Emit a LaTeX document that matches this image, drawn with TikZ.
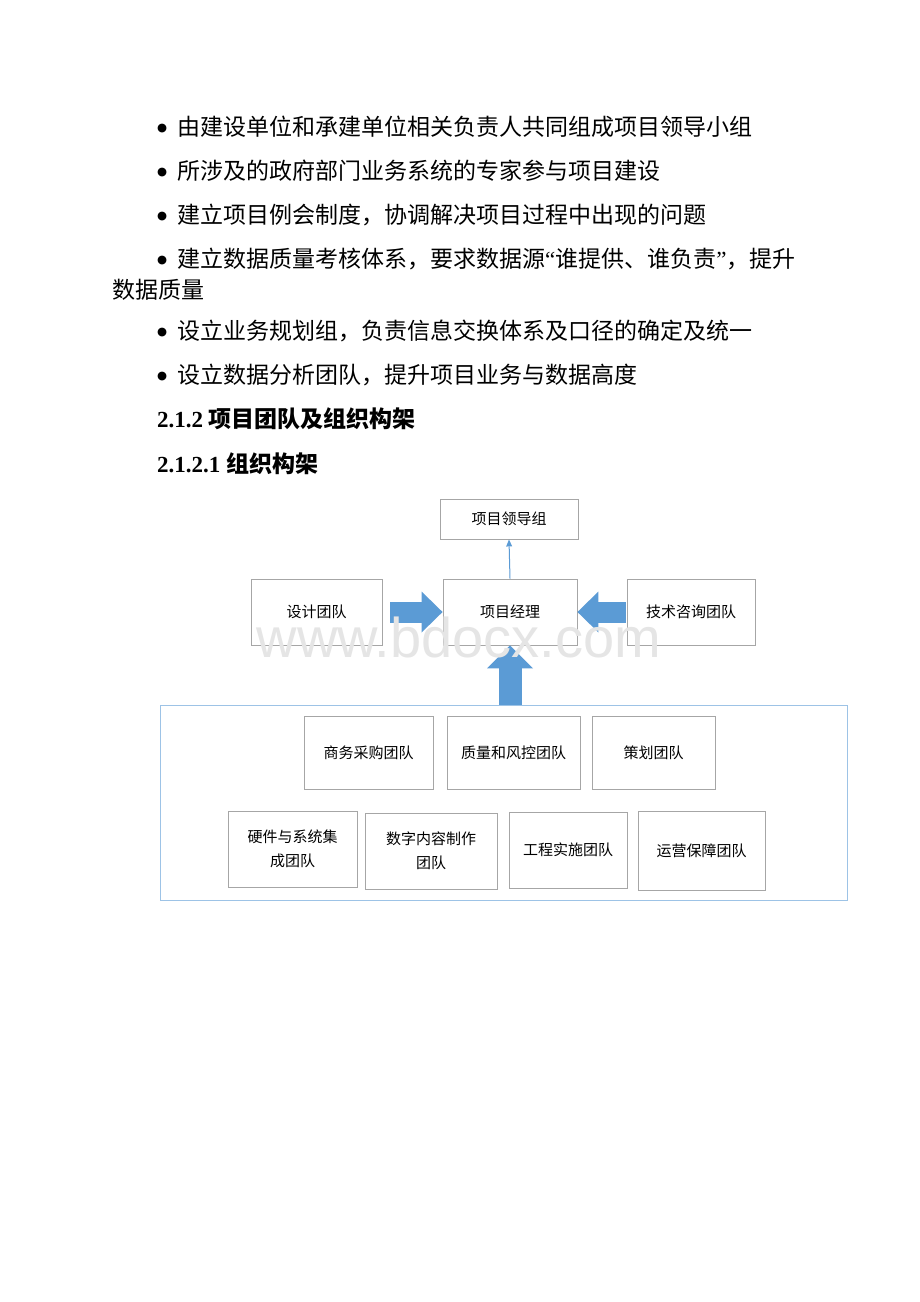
\documentclass[tikz,border=0pt]{standalone}
\usepackage{fontspec}
\setmainfont{Liberation Serif}
\newfontfamily\cjk{Noto Sans CJK SC}
\newfontfamily\symfont{DejaVu Sans}
\newfontfamily\marksans{Liberation Sans}
\usepackage{xcolor}
\definecolor{arrowBlue}{HTML}{5B9BD5}
\definecolor{boxGray}{HTML}{A6A6A6}
\definecolor{frameBlue}{HTML}{9DC3E6}
\definecolor{markGray}{HTML}{E5E5E5}
\usetikzlibrary{arrows.meta,calc,positioning}
\newcommand{\bulletMark}{\makebox[20pt][l]{\raisebox{3.5pt}{\symfont\fontsize{11.5}{11.5}\selectfont ●}}}
\tikzset{%
  bodyLine/.style={%
    anchor=base west,
    inner sep=0pt,
    font=\cjk\fontsize{23}{28}\selectfont
  },
  headLine/.style={%
    anchor=base west,
    inner sep=0pt,
    font=\bfseries\fontsize{23}{28}\selectfont
  },
  teamBox/.style={%
    rectangle,
    draw=boxGray,
    line width=0.9pt,
    inner sep=0pt,
    minimum height=73pt,
    align=center,
    font=\cjk\fontsize{15}{24}\selectfont
  },
  groupFrame/.style={%
    rectangle,
    draw=frameBlue,
    line width=1pt,
    inner sep=0pt
  },
  blockArrow/.style={%
    -{Triangle[length=21pt,width=41pt,line width=0pt]},
    line width=21pt,
    color=arrowBlue
  },
  thinArrow/.style={%
    -{Triangle[length=7pt,width=6pt,line width=0pt]},
    line width=1pt,
    color=arrowBlue
  },
  markText/.style={%
    anchor=base,
    inner sep=0pt,
    text=markGray,
    font=\marksans\fontsize{56}{56}\selectfont
  }
}

\begin{document}
\begin{tikzpicture}[x=1pt,y=-1pt]
  \useasboundingbox[fill=white] (0,0) rectangle (920,1302);

  % bullet list
  \node[bodyLine] (item1) at (157,135) {\bulletMark 由建设单位和承建单位相关负责人共同组成项目领导小组};
  \node[bodyLine] (item2) at (157,179) {\bulletMark 所涉及的政府部门业务系统的专家参与项目建设};
  \node[bodyLine] (item3) at (157,223) {\bulletMark 建立项目例会制度，协调解决项目过程中出现的问题};
  \node[bodyLine] (item4) at (157,267) {\bulletMark 建立数据质量考核体系，要求数据源{\rmfamily “}谁提供、谁负责{\rmfamily ”}，提升};
  \node[bodyLine] (item4b) at (112,298) {数据质量};
  \node[bodyLine] (item5) at (157,339) {\bulletMark 设立业务规划组，负责信息交换体系及口径的确定及统一};
  \node[bodyLine] (item6) at (157,383) {\bulletMark 设立数据分析团队，提升项目业务与数据高度};

  % headings
  \node[headLine] (head1) at (157,427) {2.1.2 {\cjk 项目团队及组织构架}};
  \node[headLine] (head2) at (157,472) {2.1.2.1 {\cjk 组织构架}};

  % upper part of the chart
  \node[teamBox, minimum width=138pt, minimum height=40pt] (lead) at (509,519) {项目领导组};
  \node[teamBox, minimum width=131pt, minimum height=66pt] (design) at (316.5,612) {设计团队};
  \node[teamBox, minimum width=134pt, minimum height=66pt] (pm) at (510,612) {项目经理};
  \node[teamBox, minimum width=128pt, minimum height=66pt] (tech) at (691,612) {技术咨询团队};

  % team group
  \node[groupFrame, minimum width=687pt, minimum height=195pt] (teams) at (503.5,802.5) {};
  \node[teamBox, minimum width=129pt] (biz) at (368.5,752.5) {商务采购团队};
  \node[teamBox, minimum width=133pt] (quality) at (513.5,752.5) {质量和风控团队};
  \node[teamBox, minimum width=123pt] (plan) at (653.5,752.5) {策划团队};
  \node[teamBox, minimum width=129pt, minimum height=76pt] (hardware) at (292.5,849) {硬件与系统集\\成团队};
  \node[teamBox, minimum width=132pt, minimum height=76pt] (digital) at (431,851) {数字内容制作\\团队};
  \node[teamBox, minimum width=118pt, minimum height=76pt] (works) at (568,850) {工程实施团队};
  \node[teamBox, minimum width=127pt, minimum height=79pt] (ops) at (701.5,850.5) {运营保障团队};

  % connectors
  \draw[thinArrow] (pm.north) -- (lead.south);
  \draw[blockArrow, shorten <=8pt] (design.east) -- (pm.west);
  \draw[blockArrow, shorten <=1pt] (tech.west) -- (pm.east);
  \draw[blockArrow, line width=23pt, -{Triangle[length=23pt,width=46pt,line width=0pt]}]
    (pm.south |- teams.north) -- (pm.south);

  % watermark
  \node[markText] (mark) at (459,657) {www.bdocx.com};
\end{tikzpicture}
\end{document}
